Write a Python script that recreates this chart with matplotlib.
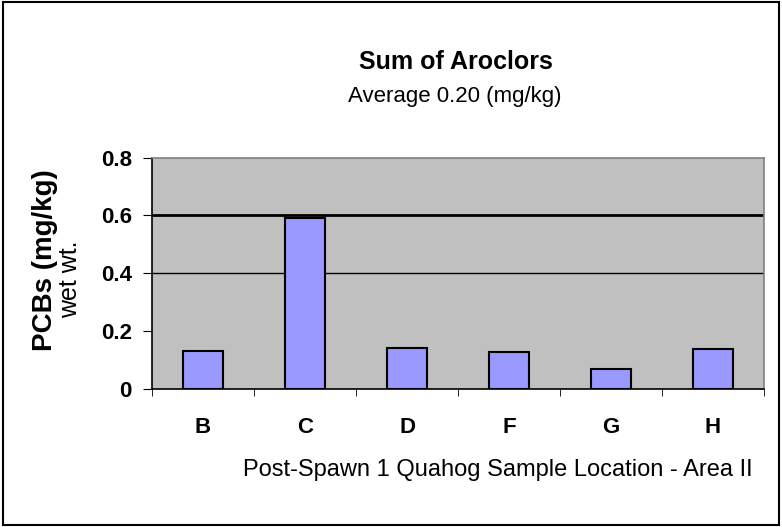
import matplotlib.pyplot as plt
from matplotlib.patches import Rectangle

plt.rcParams['font.family'] = ['Liberation Sans', 'DejaVu Sans']

# Datos
locations = ["B", "C", "D", "F", "G", "H"]
pcbs = [0.131, 0.59, 0.142, 0.127, 0.070, 0.138]

fig = plt.figure(figsize=(7.82, 5.27), dpi=100)
ax = fig.add_axes([0.1944, 0.2619, 0.7826, 0.4392])
ax.set_facecolor("#C0C0C0")

x = list(range(len(locations)))
ax.bar(x, pcbs, width=0.4, color="#9999FF", edgecolor="black", linewidth=1.5, zorder=3)

# Lineas de cuadricula
ax.axhline(0.6, color="black", linewidth=2.0, zorder=2)
ax.axhline(0.4, color="black", linewidth=1.0, zorder=2)

ax.set_xlim(-0.5, len(locations) - 0.5)
ax.set_ylim(0, 0.8)
ax.set_yticks([0, 0.2, 0.4, 0.6, 0.8])
ax.set_yticklabels(["0", "0.2", "0.4", "0.6", "0.8"], fontsize=16, fontweight="bold")
ax.set_xticks(x)
ax.set_xticklabels(locations, fontsize=16, fontweight="bold")
ax.set_xticks([i + 0.5 for i in range(-1, len(locations))], minor=True)
ax.tick_params(axis="x", which="major", length=0, pad=20)
ax.tick_params(axis="x", which="minor", length=5, direction="out", color="black")
ax.tick_params(axis="y", length=6.5, direction="out", pad=8)

for s in ["top", "right"]:
    ax.spines[s].set_color("#808080")
    ax.spines[s].set_linewidth(1.2)
ax.spines["left"].set_color("black")
ax.spines["bottom"].set_color("black")
ax.spines["left"].set_linewidth(1.2)
ax.spines["bottom"].set_linewidth(1.2)

# Titulos
fig.text(0.583, 0.882, "Sum of Aroclors", ha="center", va="center", fontsize=18, fontweight="bold")
fig.text(0.581, 0.816, "Average 0.20 (mg/kg)", ha="center", va="center", fontsize=16)

# Etiquetas de ejes
fig.text(0.058, 0.506, "PCBs (mg/kg)", rotation=90, ha="center", va="center", fontsize=20, fontweight="bold")
fig.text(0.090, 0.470, "wet wt.", rotation=90, ha="center", va="center", fontsize=18)
fig.text(0.637, 0.108, "Post-Spawn 1 Quahog Sample Location - Area II", ha="center", va="center", fontsize=17)

# Borde exterior
fig.patches.append(Rectangle((0.004, 0.004), 0.992, 0.992, transform=fig.transFigure,
                             fill=False, edgecolor="black", linewidth=1.5))

fig.savefig("out.png", dpi=100)
